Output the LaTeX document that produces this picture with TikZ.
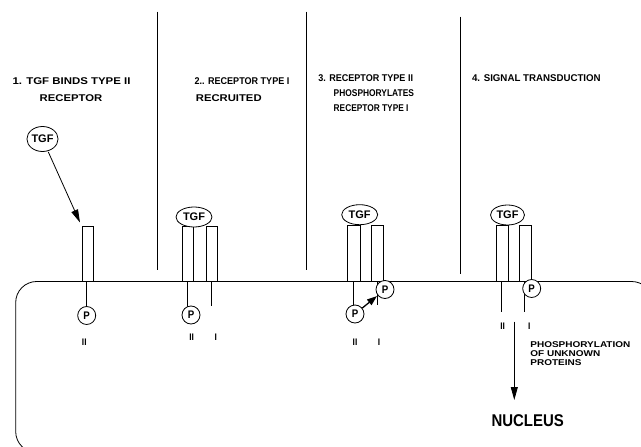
\documentclass[tikz,border=0pt]{standalone}
\usepackage{fontspec}
\setmainfont{Liberation Sans}
\newfontfamily\widefont[FakeStretch=1.19]{Liberation Sans}
\newfontfamily\narrowfont[FakeStretch=0.88]{Liberation Sans}
\newcommand\hstr[2]{\scalebox{#1}[1]{#2}}
\usetikzlibrary{arrows.meta,shapes.geometric}
\begin{document}
\begin{tikzpicture}[x=1pt,y=-1pt,line width=0.8pt,
  lbl/.style={font=\bfseries\fontsize{9.8}{11}\selectfont,inner sep=0},
  smalllbl/.style={font=\widefont\bfseries\fontsize{8.4}{9}\selectfont,inner sep=0,anchor=west},
  tgf/.style={ellipse,draw,fill=white,inner sep=0,minimum width=36,minimum height=20,
    font=\bfseries\fontsize{11}{12}\selectfont},
  pc/.style={circle,draw,fill=white,inner sep=0,minimum size=18,
    font=\narrowfont\bfseries\fontsize{11}{12}\selectfont},
  rn/.style={font=\narrowfont\bfseries\fontsize{9.5}{10}\selectfont,inner sep=0},
  recbox/.style={draw,fill=white},
  arr/.style={-{Triangle[length=13,width=7]}},
]
\useasboundingbox (0,0) rectangle (641,447);
\begin{scope}
\clip (0,0) rectangle (641,447);
% cell outline with membrane
\draw[rounded corners=21] (300,452.6) -- (15.7,452.6) -- (15.7,281.5) -- (652.7,281.5) -- (652.7,452.6) -- cycle;
\end{scope}

% dividers
\draw (157.7,11.7) -- (157.7,270);
\draw (306,11.7) -- (306,270);
\draw (460,16.7) -- (460,274);

% headings
\node[lbl] (h1a) at (71.5,81) {\hstr{1.167}{1. TGF BINDS TYPE II}};
\node[lbl] (h1b) at (71,98) {\hstr{1.153}{RECEPTOR}};
\node[lbl,anchor=west] (h2a) at (194.3,81) {\hstr{0.923}{2.. RECEPTOR TYPE I}};
\node[lbl,anchor=west] (h2b) at (195.5,98) {\hstr{1.15}{RECRUITED}};
\node[lbl,anchor=west] (h3a) at (318,77.7) {\hstr{0.923}{3. RECEPTOR TYPE II}};
\node[lbl,anchor=west] (h3b) at (333.3,93.3) {\hstr{0.857}{PHOSPHORYLATES}};
\node[lbl,anchor=west] (h3c) at (333.3,107.7) {\hstr{0.85}{RECEPTOR TYPE I}};
\node[lbl,anchor=west] (h4a) at (471.7,77.7) {\hstr{0.99}{4. SIGNAL TRANSDUCTION}};

% ---- step 1
\draw (86.7,281.5) -- (86.7,308);
\node[recbox,minimum width=11.3,minimum height=54.8,inner sep=0,anchor=south west] (r1) at (81.7,281.5) {};
\node[pc] (p1) at (86.7,315.5) {P};
\node[rn] (n1) at (84.3,342.7) {II};
\node[tgf,minimum width=30,minimum height=25] (t1) at (42.5,139) {TGF};
\coordinate (a1) at (80,222.5);
\draw[arr,shorten <=1pt] (t1) -- (a1);

% ---- step 2
\draw (187.7,281.5) -- (187.7,308);
\draw (211.5,281.5) -- (211.5,305.7);
\node[recbox,minimum width=11.6,minimum height=54.8,inner sep=0,anchor=south west] (r2a) at (181.7,281.5) {};
\node[recbox,minimum width=11.6,minimum height=54.8,inner sep=0,anchor=south west] (r2b) at (205.7,281.5) {};
\node[tgf] (t2) at (194,217) {TGF};
\node[pc] (p2) at (191,315) {P};
\node[rn] (n2a) at (191.7,337) {II};
\node[rn] (n2b) at (215.7,337) {I};

% ---- step 3
\draw (353.3,281.5) -- (353.3,308);
\draw (377.7,281.5) -- (377.7,305);
\node[recbox,minimum width=12.7,minimum height=55.8,inner sep=0,anchor=south west] (r3a) at (347.3,281.5) {};
\node[recbox,minimum width=11.7,minimum height=55.8,inner sep=0,anchor=south west] (r3b) at (371,281.5) {};
\node[tgf] (t3) at (359.7,214.7) {TGF};
\node[pc] (p3a) at (355,314) {P};
\node[pc] (p3b) at (385,289.5) {P};
\draw[line width=1.3pt,-{Triangle[length=10,width=7]},shorten >=1pt] (p3a) -- (p3b);
\node[rn] (n3a) at (355,342.7) {II};
\node[rn] (n3b) at (379,342.7) {I};

% ---- step 4
\draw (501,281.5) -- (501,311.7);
\draw (524.3,281.5) -- (524.3,311.7);
\node[recbox,minimum width=11.7,minimum height=55.8,inner sep=0,anchor=south west] (r4a) at (496,281.5) {};
\node[recbox,minimum width=11.7,minimum height=55.8,inner sep=0,anchor=south west] (r4b) at (519.3,281.5) {};
\node[tgf,minimum width=34] (t4) at (507.5,215) {TGF};
\node[pc] (p4) at (531.7,288.5) {P};
\node[rn] (n4a) at (502.7,326.7) {II};
\node[rn] (n4b) at (529.3,326.7) {I};
\coordinate (s4) at (514.3,321.7);
\coordinate (e4) at (514.3,400);
\draw[arr] (s4) -- (e4);

\node[smalllbl] (q1) at (530,345) {PHOSPHORYLATION};
\node[smalllbl] (q2) at (530,354) {OF UNKNOWN};
\node[smalllbl] (q3) at (530,362.5) {PROTEINS};
\node[font=\narrowfont\bfseries\fontsize{17}{18}\selectfont,inner sep=0] (nuc) at (527.7,420.7) {NUCLEUS};
\end{tikzpicture}
\end{document}
